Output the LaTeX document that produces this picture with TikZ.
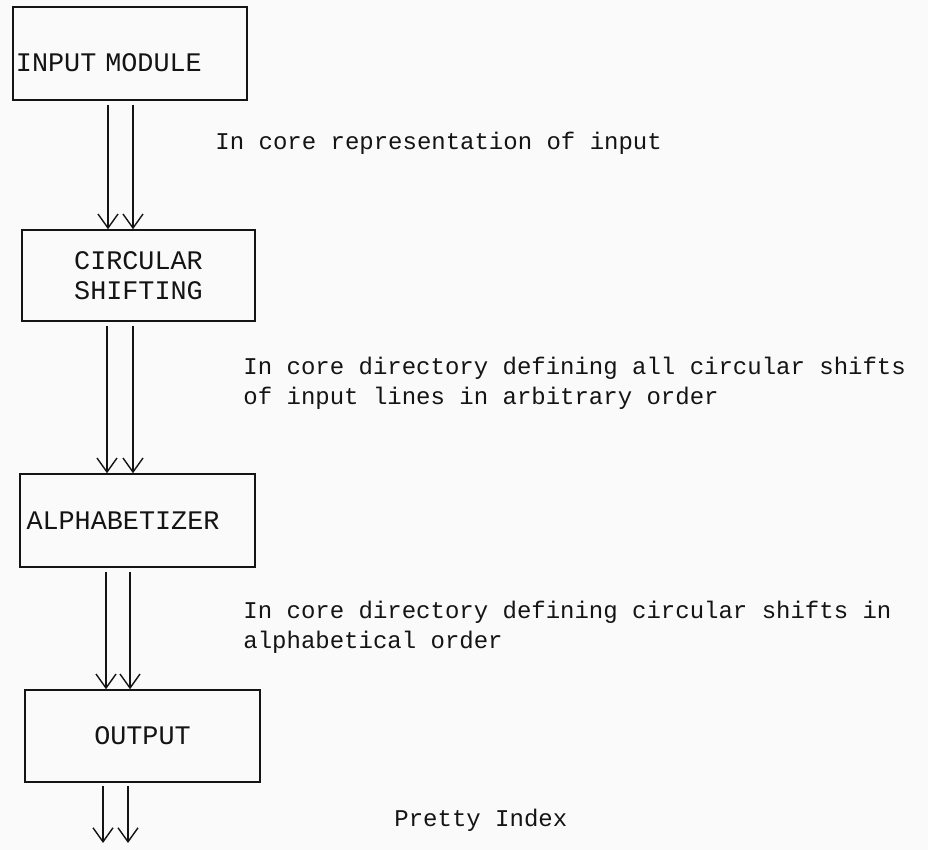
\documentclass[tikz,border=0pt]{standalone}
\usepackage{fontspec}
\setmonofont{Liberation Mono}
\usepackage{xcolor}
\definecolor{inkblack}{RGB}{20, 20, 20}
\definecolor{paperwhite}{RGB}{250, 250, 250}
\usetikzlibrary{arrows.meta, positioning}

\tikzset{
    module/.style={draw=inkblack, line width=0.75pt, inner sep=0pt,
        font=\ttfamily\fontsize{13.4}{15}\selectfont, text=inkblack},
    flow/.style={->, draw=inkblack, line width=0.7pt},
    note/.style={font=\ttfamily\fontsize{12}{15}\selectfont, text=inkblack,
        align=left, anchor=west, inner sep=0pt}
}

\begin{document}
\begin{tikzpicture}[x=0.5pt, y=-0.5pt, >={Straight Barb[length=7pt, width=10pt]}]

\fill[paperwhite] (0,0) rectangle (928,850);
\useasboundingbox (0,0) rectangle (928,850);

% === Modulos ===
\node[module, minimum width=117pt, minimum height=46.5pt, text width=114pt, align=left,
    text height=18.5pt] (inmod) at (130,53.5) {INPUT MODULE};
\node[module, minimum width=116.5pt, minimum height=45.5pt, align=center]
    (shift) at (138.5,275.5) {CIRCULAR\\SHIFTING};
\node[module, minimum width=117.5pt, minimum height=46.5pt, text width=111pt, align=left]
    (alpha) at (137.5,520.5) {ALPHABETIZER};
\node[module, minimum width=117.5pt, minimum height=46pt, align=center]
    (output) at (142.5,736) {OUTPUT};
\coordinate (index) at (115,843);

% === Flujos de datos (pares de flechas) ===
\foreach \from/\to/\xa/\xb in {
    inmod/shift/108/133,
    shift/alpha/107/133,
    alpha/output/106/130
} {
    \draw[flow] ([yshift=-2pt]\from.south -| \xa,0) -- (\to.north -| \xa,0);
    \draw[flow] ([yshift=-2pt]\from.south -| \xb,0) -- (\to.north -| \xb,0);
}
\draw[flow] ([yshift=-1.5pt]output.south -| 103,0) -- (index -| 103,0);
\draw[flow] ([yshift=-1.5pt]output.south -| 128,0) -- (index -| 128,0);

% === Etiquetas ===
\node[note] (lbl1) at (215,143) {In core representation of input};
\node[note] (lbl2) at (243,383) {In core directory defining all circular shifts\\of input lines in arbitrary order};
\node[note] (lbl3) at (243,627) {In core directory defining circular shifts in\\alphabetical order};
\node[note] (lbl4) at (394,820) {Pretty Index};

\end{tikzpicture}
\end{document}
